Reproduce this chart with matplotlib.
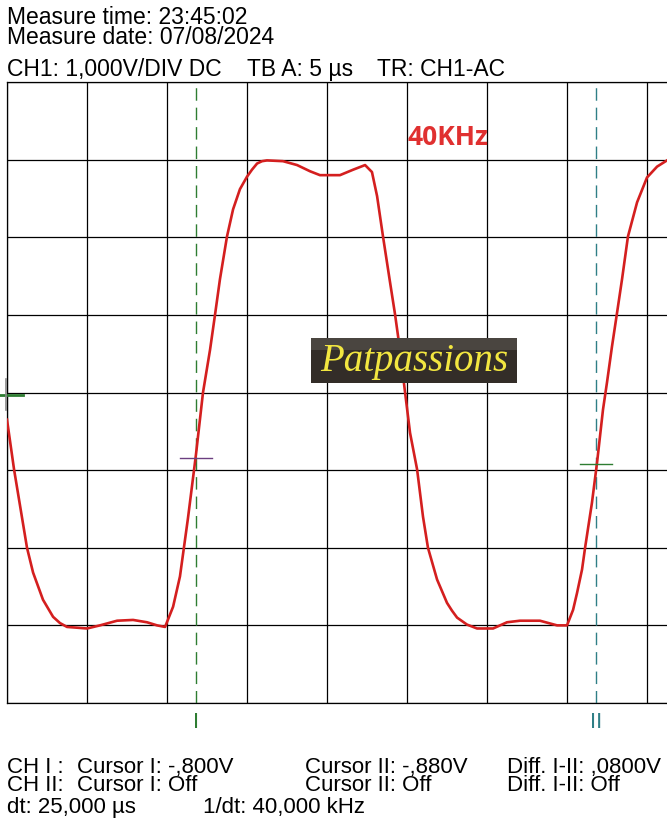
import matplotlib
matplotlib.use('Agg')
from matplotlib import pyplot as plt
from matplotlib.patches import Rectangle

# trace: time in us, voltage in V (1 V/div, 5 us/div)
times = [0.0, 0.44, 1.25, 1.63, 2.25, 2.88, 3.31, 3.75, 5.0, 5.81, 6.88, 7.88, 8.75, 9.38, 9.88,
         10.38, 10.81, 11.31, 11.81, 12.25, 12.69, 13.0, 13.31, 13.75, 14.13, 14.56, 15.0,
         15.31, 15.63, 15.94, 16.25, 17.25, 18.13, 18.94, 19.56, 20.81, 21.63, 22.38, 22.81,
         23.13, 23.5, 23.94, 24.25, 24.56, 24.88, 25.19, 25.63, 26.0, 26.31, 26.88, 27.5, 27.81,
         28.13, 28.75, 29.38, 30.38, 31.25, 32.06, 33.31, 34.38, 35.0, 35.38, 35.63, 35.94,
         36.13, 36.56, 36.88, 37.25, 37.5, 37.81, 38.13, 38.44, 38.81, 39.38, 40.0, 40.63, 41.25]
volts = [-0.35, -0.99, -2.0, -2.32, -2.67, -2.89, -2.97, -3.02, -3.04, -3.0, -2.94, -2.93, -2.96, -3.0, -3.02,
         -2.76, -2.37, -1.62, -0.8, 0.0, 0.55, 1.0, 1.46, 2.01, 2.36, 2.62, 2.78,
         2.87, 2.95, 2.98, 2.99, 2.98, 2.93, 2.85, 2.8, 2.8, 2.87, 2.93, 2.84,
         2.53, 2.01, 1.42, 1.01, 0.55, 0.0, -0.52, -0.99, -1.6, -2.0, -2.41, -2.71, -2.81,
         -2.9, -2.99, -3.04, -3.04, -2.96, -2.94, -2.94, -3.0, -3.0, -2.8, -2.58, -2.28,
         -2.0, -1.42, -0.9, -0.22, 0.13, 0.59, 1.03, 1.46, 2.01, 2.45, 2.77, 2.91, 2.99]

cursor_t = [11.81, 36.81]
cursor_v = [-0.84, -0.915]
cursor_labels = ['I', 'II']
cursor_colors = ['#2e7d32', '#2f7f86']
cross_colors = ['#6b3f80', '#2e7d32']

header = ['Measure time: 23:45:02', 'Measure date: 07/08/2024']
setup = ['CH1: 1,000V/DIV DC', 'TB A: 5 \u00b5s', 'TR: CH1-AC']
footer_cols = [['CH I :', 'CH II:'],
               ['Cursor I: -,800V', 'Cursor I: Off'],
               ['Cursor II: -,880V', 'Cursor II: Off'],
               ['Diff. I-II: ,0800V', 'Diff. I-II: Off']]
footer_dt = ['dt: 25,000 \u00b5s', '1/dt: 40,000 kHz']

W, H = 667, 818
def fx(x):
    return x / W
def fy(y):
    return 1 - y / H

plt.rcParams['font.family'] = ['Liberation Sans', 'DejaVu Sans']
fig = plt.figure(figsize=(W / 100, H / 100), dpi=100)
ax = fig.add_axes([fx(7), fy(703), 660 / W, 621 / H])
ax.set_xlim(0, 41.25)
ax.set_ylim(-4, 4)
ax.set_xticks(range(0, 45, 5))
ax.set_yticks(range(-4, 5))
ax.grid(color='black', lw=0.9)
ax.tick_params(length=0, labelbottom=False, labelleft=False)
for s in ['left', 'top', 'bottom']:
    ax.spines[s].set_linewidth(0.9)
ax.spines['right'].set_visible(False)

ax.plot(times, volts, color='#d41f1f', lw=1.9, zorder=3, solid_joinstyle='round')

# cursors
for t, v, lab, c, cc in zip(cursor_t, cursor_v, cursor_labels, cursor_colors, cross_colors):
    ax.axvline(t, color=c, lw=1, dashes=(9, 5), zorder=2)
    ax.plot([t - 1.0, t + 1.0], [v, v], color=cc, lw=1, zorder=4)
    ax.text(t, -4.25, lab, color=c, ha='center', va='center', fontsize=16, clip_on=False)

# trigger / ground marker on the left
ax.plot([-0.44, 1.0], [-0.03, -0.03], color='#2e7d32', lw=2, clip_on=False, zorder=5)
ax.plot([-0.06, -0.06], [0.17, -0.23], color='#888888', lw=1.2, clip_on=False, zorder=5)

# frequency note and logo
ax.text(27.56, 3.29, '40KHz', color='#e03030', fontsize=19, fontweight='bold',
        family=['Open Sans', 'DejaVu Sans'], ha='center', va='center', zorder=6)
ax.add_patch(Rectangle((19.0, 0.116), 12.875, 0.584, facecolor='#332d28', edgecolor='none', zorder=6))
ax.add_patch(Rectangle((19.0, 0.55), 12.875, 0.15, facecolor='#4a4540', edgecolor='none', zorder=6))
ax.text(25.44, 0.40, 'Patpassions', color='#f2e640', fontsize=28, style='italic',
        family=['Liberation Serif', 'DejaVu Serif'], ha='center', va='center', zorder=7)

# text blocks (stacked lines drawn as one block each, as on the scope printout)
fs = 16.5
fig.text(fx(7), fy(6), '\n'.join(header), fontsize=fs, va='top', linespacing=0.85)
for x, s in zip([7, 247, 377], setup):
    fig.text(fx(x), fy(76), s, fontsize=fs, va='baseline')
fs2 = 16
for x, col in zip([7, 77, 305, 507], footer_cols):
    fig.text(fx(x), fy(757), '\n'.join(col), fontsize=fs2, va='top', linespacing=0.84)
for x, s in zip([7, 203], footer_dt):
    fig.text(fx(x), fy(813), s, fontsize=fs2, va='baseline')

fig.savefig('out.png', dpi=100, facecolor='white')
